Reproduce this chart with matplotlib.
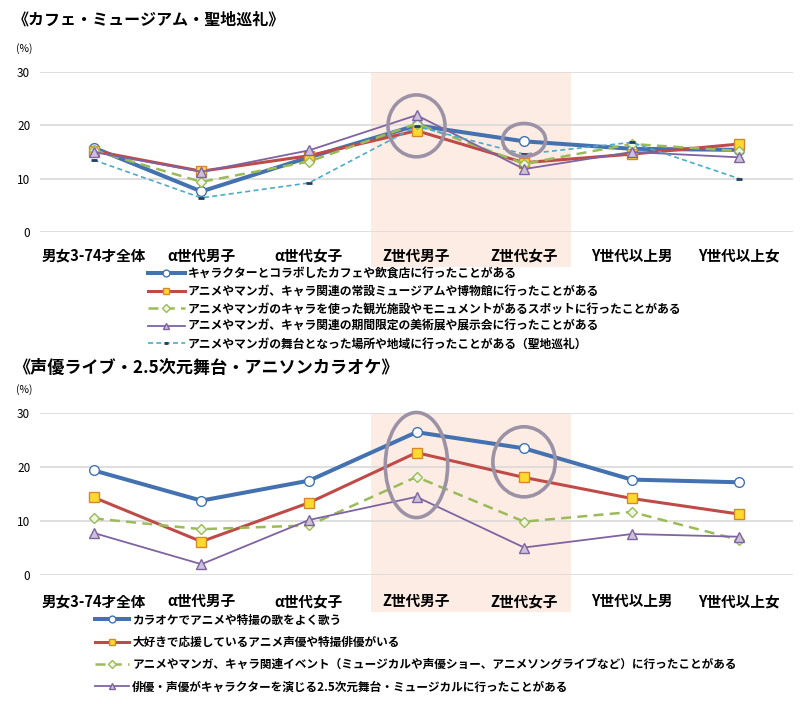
import matplotlib
matplotlib.use("Agg")
import matplotlib.pyplot as plt
from matplotlib.patches import Rectangle, Ellipse

plt.rcParams['font.family'] = ['Noto Sans CJK JP', 'DejaVu Sans']

categories = ['男女3-74才全体', 'α世代男子', 'α世代女子', 'Z世代男子', 'Z世代女子', 'Y世代以上男', 'Y世代以上女']

# Top chart
top_title = '《カフェ・ミュージアム・聖地巡礼》'
top_labels = [
    'キャラクターとコラボしたカフェや飲食店に行ったことがある',
    'アニメやマンガ、キャラ関連の常設ミュージアムや博物館に行ったことがある',
    'アニメやマンガのキャラを使った観光施設やモニュメントがあるスポットに行ったことがある',
    'アニメやマンガ、キャラ関連の期間限定の美術展や展示会に行ったことがある',
    'アニメやマンガの舞台となった場所や地域に行ったことがある（聖地巡礼）',
]
cafe = [15.8, 7.6, 14.0, 20.0, 17.0, 15.6, 15.4]
museum = [15.2, 11.4, 14.3, 19.0, 13.0, 14.6, 16.5]
spot = [15.3, 9.4, 13.2, 20.3, 12.8, 16.5, 15.2]
exhibit = [15.0, 11.3, 15.3, 21.9, 11.8, 15.0, 14.0]
seichi = [13.5, 6.4, 9.2, 19.8, 14.6, 16.8, 10.0]

# Bottom chart
bot_title = '《声優ライブ・2.5次元舞台・アニソンカラオケ》'
bot_labels = [
    'カラオケでアニメや特撮の歌をよく歌う',
    '大好きで応援しているアニメ声優や特撮俳優がいる',
    'アニメやマンガ、キャラ関連イベント（ミュージカルや声優ショー、アニメソングライブなど）に行ったことがある',
    '俳優・声優がキャラクターを演じる2.5次元舞台・ミュージカルに行ったことがある',
]
karaoke = [19.4, 13.8, 17.5, 26.5, 23.5, 17.7, 17.2]
seiyu = [14.4, 6.2, 13.4, 22.7, 18.1, 14.2, 11.3]
event = [10.5, 8.5, 9.2, 18.2, 9.9, 11.7, 6.5]
stage = [7.8, 2.0, 10.2, 14.5, 5.1, 7.6, 7.1]

yticks = [0, 10, 20, 30]

BLUE = '#4472b0'
RED = '#be4b48'
GREEN = '#9bbb59'
PURPLE = '#7f63a1'
TEAL = '#4bacc6'
BAND = '#fdece4'
RING = '#9c92a6'

styles = [
    dict(color=BLUE, lw=2.9, marker='o', ms=7, mfc='white', mec=BLUE, mew=1.0),
    dict(color=RED, lw=2.2, marker='s', ms=6.5, mfc='#ffd92f', mec='#d4882a', mew=1.0),
    dict(color=GREEN, lw=1.8, ls=(0, (4, 2.5)), marker='D', ms=5.5, mfc='#eef5e0', mec=GREEN, mew=1.0),
    dict(color=PURPLE, lw=1.3, marker='^', ms=7, mfc='#ccc1da', mec=PURPLE, mew=1.0),
    dict(color=TEAL, lw=1.2, ls=(0, (3, 2)), marker='_', ms=4, mec='#1f3e60', mew=2.0),
]

fig = plt.figure(figsize=(8.0, 7.02), dpi=100)
W, H = 800, 702

def make_axes(y0_px, y30_px):
    left = 40 / W
    right = 793 / W
    bottom = 1 - y0_px / H
    top = 1 - y30_px / H
    return fig.add_axes([left, bottom, right - left, top - bottom])

def setup(ax, band_bottom, xpad):
    ax.set_xlim(-0.5, 6.5)
    ax.set_ylim(0, 30)
    for s in ax.spines.values():
        s.set_visible(False)
    ax.set_yticks(yticks)
    ax.set_yticklabels([str(v) for v in yticks], fontsize=8.5)
    ax.set_xticks(range(len(categories)))
    ax.set_xticklabels(categories, fontsize=10.5, fontweight='bold')
    ax.tick_params(axis='both', length=0)
    ax.tick_params(axis='y', pad=7)
    ax.tick_params(axis='x', pad=xpad)
    ax.grid(axis='y', color='#d9d9d9', lw=1.2)
    ax.set_axisbelow(True)
    ax.add_patch(Rectangle((2.58, band_bottom), 4.44 - 2.58, 30 - band_bottom,
                           facecolor=BAND, edgecolor='none', zorder=0.2, clip_on=False))

x = list(range(len(categories)))

# Top
ax1 = make_axes(232, 72)
setup(ax1, -6.6, 11.5)
handles1 = []
for vals, st, lab in zip([cafe, museum, spot, exhibit, seichi], styles, top_labels):
    ln, = ax1.plot(x, vals, label=lab, clip_on=False, zorder=3, **st)
    handles1.append(ln)
ax1.add_patch(Ellipse((3.0, 19.9), 0.53, 11.6, facecolor='none', edgecolor=RING, lw=2.6, zorder=5, clip_on=False))
ax1.add_patch(Ellipse((4.0, 17.25), 0.40, 6.2, facecolor='none', edgecolor=RING, lw=2.6, zorder=5, clip_on=False))
fig.text(13 / W, 1 - 20 / H, top_title, fontsize=11.5, fontweight='bold', ha='left', va='center')
fig.text(24 / W, 1 - 49 / H, '(%)', fontsize=7.5, ha='center', va='center')
fig.legend(handles=handles1, labels=top_labels, loc='upper left', bbox_to_anchor=(148 / W, 1 - 267.5 / H),
           frameon=False, borderpad=0, borderaxespad=0, handlelength=3.1, handletextpad=0.25,
           labelspacing=0.38, markerscale=0.7, prop=dict(size=8.5, weight='bold'))

# Bottom
ax2 = make_axes(575, 413.3)
setup(ax2, -6.9, 13)
handles2 = []
for vals, st, lab in zip([karaoke, seiyu, event, stage], styles[:4], bot_labels):
    ln, = ax2.plot(x, vals, label=lab, clip_on=False, zorder=3, **st)
    handles2.append(ln)
ax2.add_patch(Ellipse((3.0, 20.4), 0.58, 19.5, facecolor='none', edgecolor=RING, lw=2.6, zorder=5, clip_on=False))
ax2.add_patch(Ellipse((4.0, 21.0), 0.58, 13.0, facecolor='none', edgecolor=RING, lw=2.6, zorder=5, clip_on=False))
fig.text(13 / W, 1 - 368 / H, bot_title, fontsize=12.3, fontweight='bold', ha='left', va='center')
fig.text(24 / W, 1 - 390 / H, '(%)', fontsize=7.5, ha='center', va='center')
fig.legend(handles=handles2, labels=bot_labels, loc='upper left', bbox_to_anchor=(95 / W, 1 - 613.5 / H),
           frameon=False, borderpad=0, borderaxespad=0, handlelength=2.95, handletextpad=0.25,
           labelspacing=0.80, markerscale=0.7, prop=dict(size=8.4, weight='bold'))

fig.savefig('out.png', dpi=100, facecolor='white')
